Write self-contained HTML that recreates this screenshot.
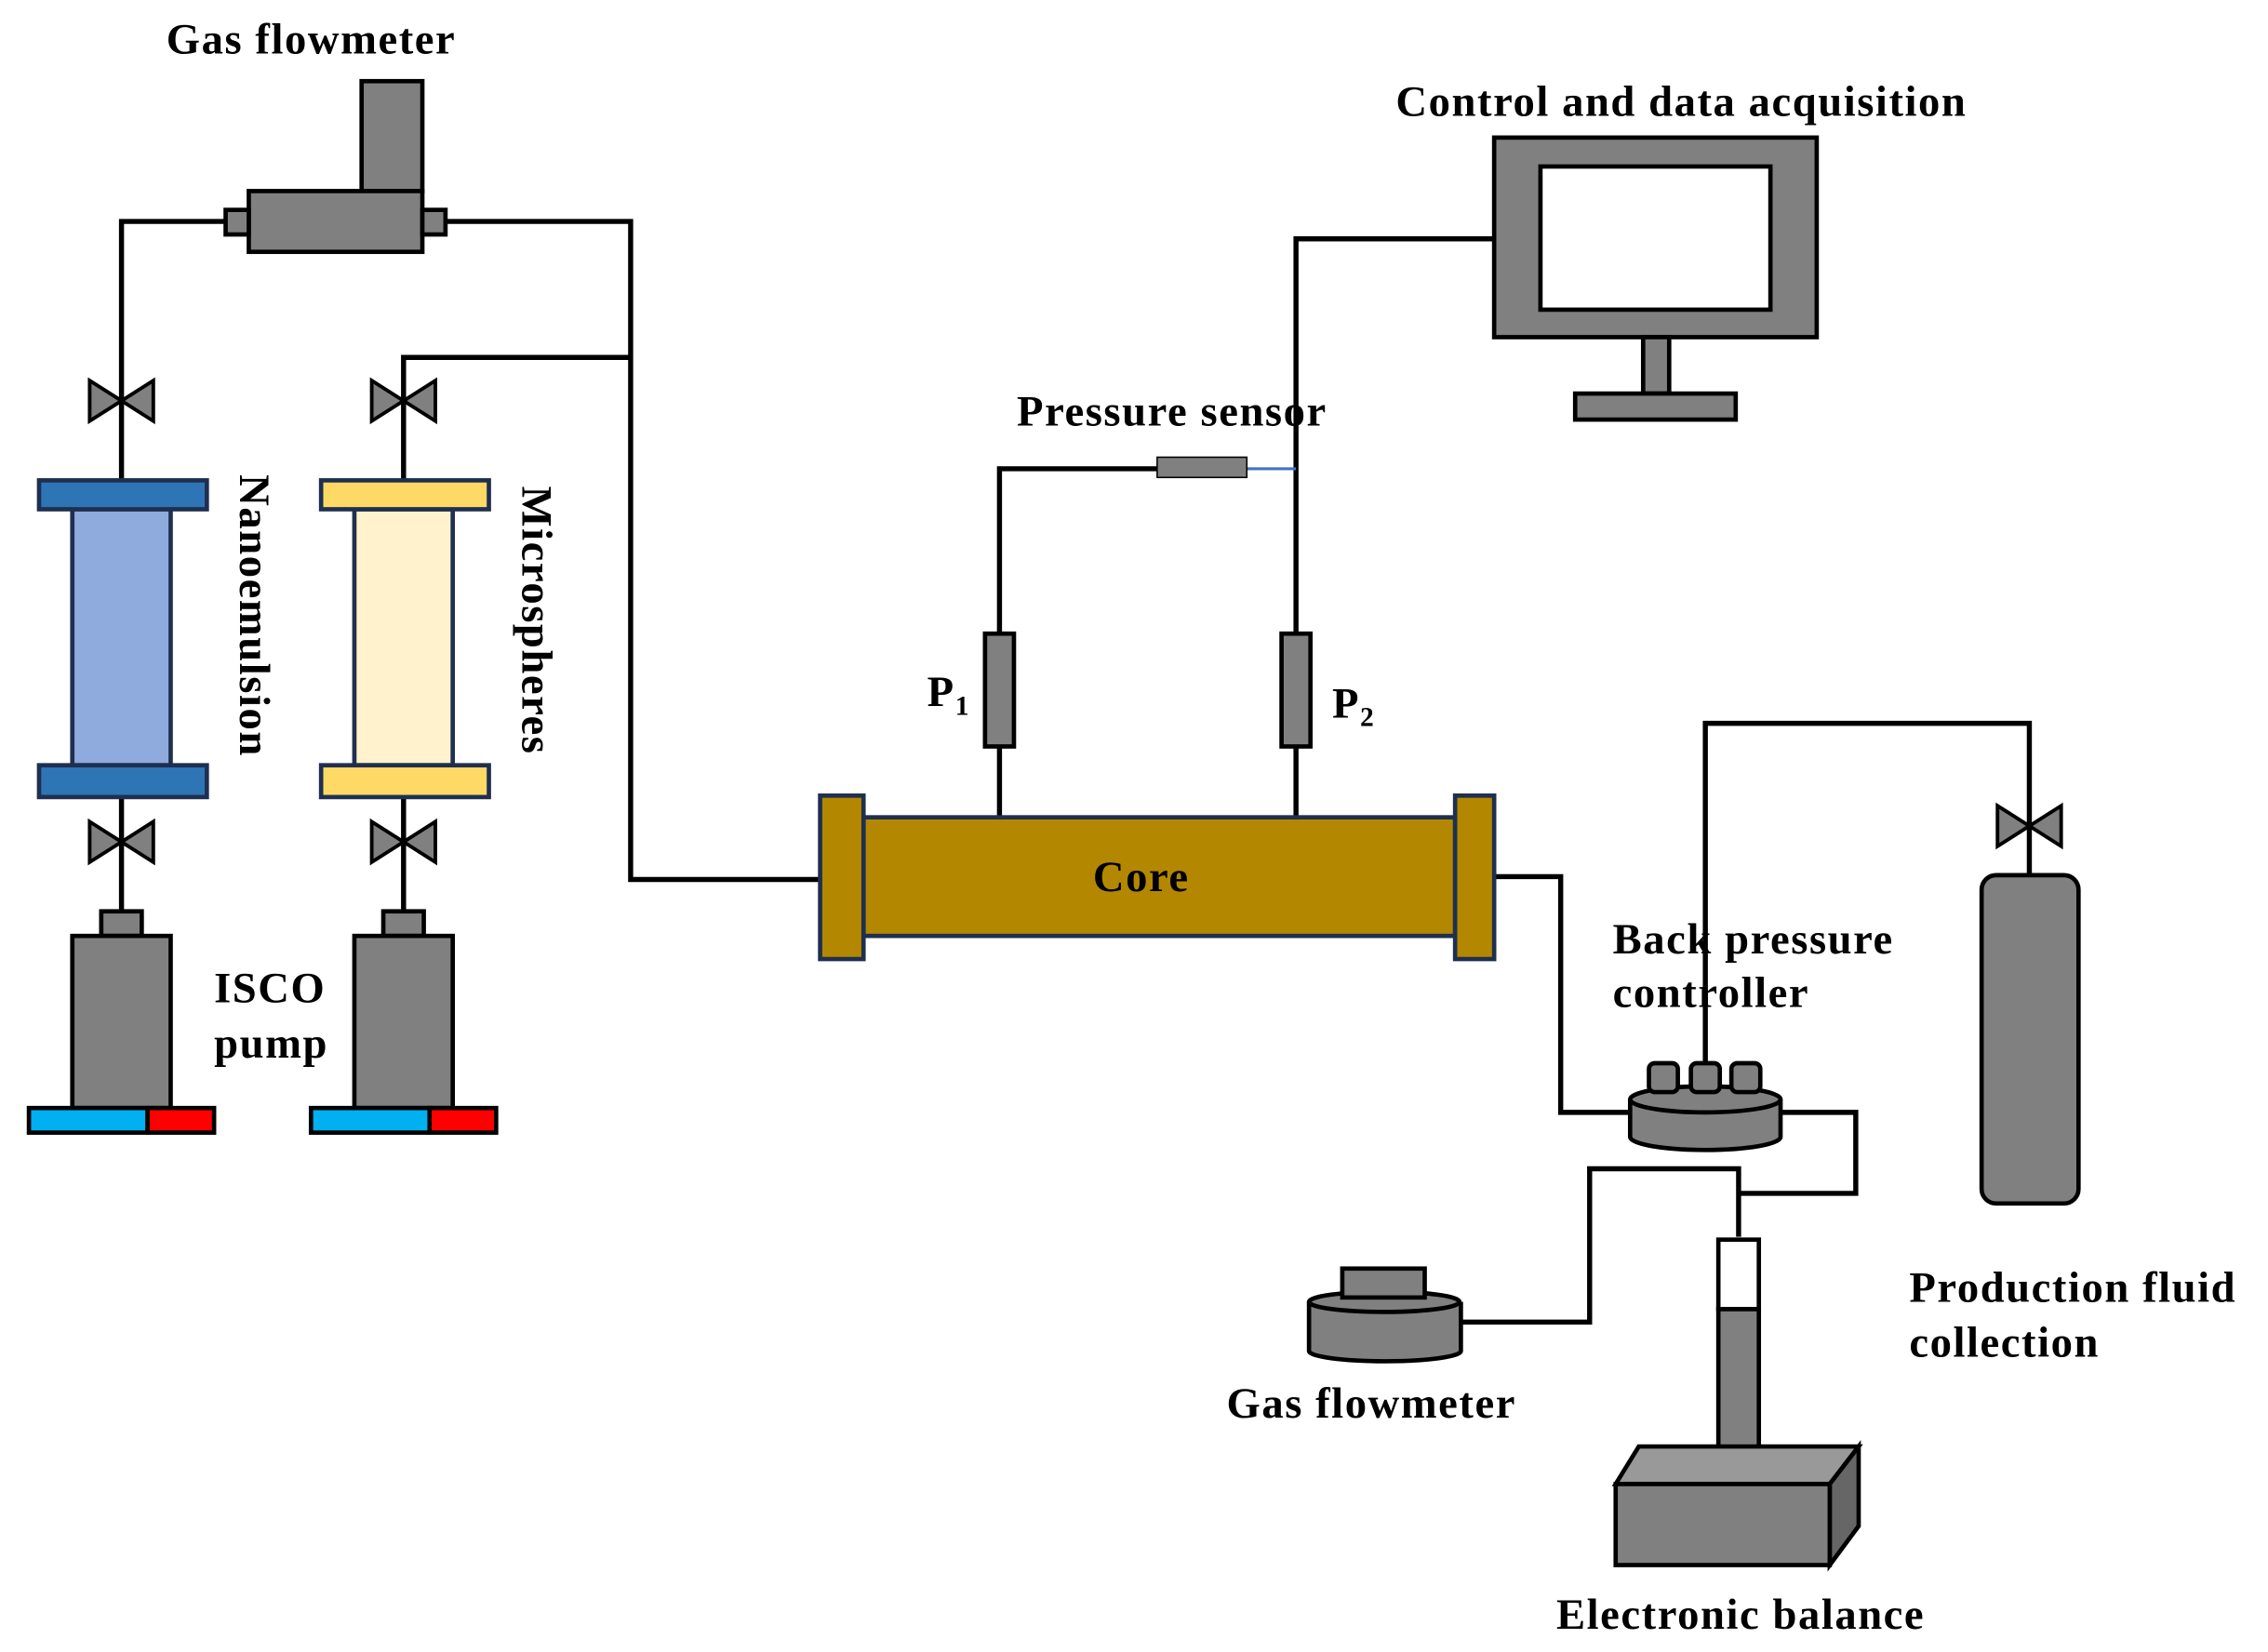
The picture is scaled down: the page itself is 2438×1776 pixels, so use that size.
<!DOCTYPE html>
<html><head><style>html,body{margin:0;padding:0;background:#fff}svg{display:block}</style></head>
<body>
<svg width="2438" height="1776" viewBox="0 0 1568 1142" xmlns="http://www.w3.org/2000/svg" font-family="'Liberation Serif',serif" font-weight="bold">
<rect width="1568" height="1142" fill="#fff"/>
<g fill="none" stroke="#000" stroke-width="3.5">
<polyline points="156,153 84,153 84,332"/>
<polyline points="308,153 436,153 436,608 567,608"/>
<polyline points="279,332 279,247 436,247"/>
<line x1="84" y1="551" x2="84" y2="630"/>
<line x1="279" y1="551" x2="279" y2="630"/>
<polyline points="691,565 691,324 800,324"/>
<polyline points="896,565 896,165 1033,165"/>
<polyline points="1033,606 1079,606 1079,769 1127,769"/>
<polyline points="1179,735 1179,500 1403,500 1403,605"/>
<polyline points="1231,769 1283,769 1283,825 1202,825"/>
<polyline points="1010,914 1099,914 1099,808 1202,808 1202,855"/>
</g>
<line x1="862" y1="324" x2="896" y2="324" stroke="#4472c4" stroke-width="2"/>
<g stroke="#000" stroke-width="3" fill="#808080">
<rect x="250" y="56" width="42" height="76"/>
<rect x="172" y="132" width="120" height="42"/>
<rect x="156" y="145" width="16" height="17"/>
<rect x="292" y="145" width="16" height="17"/>
</g>
<g stroke="#000" stroke-width="2.5" fill="#808080">
<path d="M62,263 L106,291 L106,263 L62,291 Z"/>
<path d="M257,263 L301,291 L301,263 L257,291 Z"/>
<path d="M62,568 L106,596 L106,568 L62,596 Z"/>
<path d="M257,568 L301,596 L301,568 L257,596 Z"/>
<path d="M1381,557 L1425,585 L1425,557 L1381,585 Z"/>
</g>
<g stroke="#1f2f4f" stroke-width="3">
<rect x="50" y="352" width="68" height="177" fill="#8faadc"/>
<rect x="27" y="332" width="116" height="20" fill="#2e75b6"/>
<rect x="27" y="529" width="116" height="22" fill="#2e75b6"/>
<rect x="245" y="352" width="68" height="177" fill="#fff2cc"/>
<rect x="222" y="332" width="116" height="20" fill="#ffd966"/>
<rect x="222" y="529" width="116" height="22" fill="#ffd966"/>
<rect x="597" y="565" width="409" height="82" fill="#b38800"/>
<rect x="567" y="550" width="30" height="113" fill="#b38800"/>
<rect x="1006" y="550" width="27" height="113" fill="#b38800"/>
</g>
<g stroke="#000" stroke-width="3" fill="#808080">
<rect x="70" y="630" width="28" height="17"/>
<rect x="50" y="647" width="68" height="119"/>
<rect x="265" y="630" width="28" height="17"/>
<rect x="245" y="647" width="68" height="119"/>
<rect x="20" y="766" width="82" height="17" fill="#00b0f0"/>
<rect x="102" y="766" width="46" height="17" fill="#ff0000"/>
<rect x="215" y="766" width="82" height="17" fill="#00b0f0"/>
<rect x="297" y="766" width="46" height="17" fill="#ff0000"/>
<rect x="681" y="438" width="20" height="78"/>
<rect x="886" y="438" width="20" height="78"/>
<rect x="800" y="316" width="62" height="14" stroke-width="1"/>
<rect x="1033" y="95" width="223" height="138"/>
<rect x="1065" y="115" width="159" height="99" fill="#fff"/>
<rect x="1136" y="233" width="18" height="39"/>
<rect x="1089" y="272" width="111" height="18"/>
<path d="M1127,760 L1127,786 A52,9 0 0 0 1231,786 L1231,760"/>
<ellipse cx="1179" cy="760" rx="52" ry="9"/>
<rect x="1140" y="735" width="20" height="20" rx="4"/>
<rect x="1169" y="735" width="20" height="20" rx="4"/>
<rect x="1197" y="735" width="20" height="20" rx="4"/>
<rect x="1370" y="605" width="67" height="227" rx="10"/>
<path d="M905,900 L905,934 A52,7 0 0 0 1010,934 L1010,900"/>
<ellipse cx="957" cy="900" rx="52" ry="7"/>
<rect x="928" y="877" width="57" height="20"/>
<rect x="1188" y="905" width="28" height="100"/>
<rect x="1188" y="857" width="28" height="48" fill="#fff"/>
<path d="M1117,1026 L1133,1000 L1285,1000 L1265,1026 Z" fill="#999"/>
<path d="M1265,1026 L1285,1000 L1285,1055 L1265,1082 Z" fill="#666"/>
<rect x="1117" y="1026" width="148" height="56"/>
</g>
<g font-size="30" fill="#000" letter-spacing="1">
<text x="115" y="37">Gas flowmeter</text>
<text x="965" y="80">Control and data acquisition</text>
<text x="703" y="294">Pressure sensor</text>
<text x="148" y="693">ISCO</text>
<text x="148" y="731">pump</text>
<text x="789" y="616" text-anchor="middle">Core</text>
<text x="641" y="488">P<tspan font-size="19" dy="6">1</tspan></text>
<text x="921" y="496">P<tspan font-size="19" dy="6">2</tspan></text>
<text x="1115" y="659">Back pressure</text>
<text x="1115" y="696">controller</text>
<text x="1320" y="900">Production fluid</text>
<text x="1320" y="938">collection</text>
<text x="848" y="980">Gas flowmeter</text>
<text x="1076" y="1126">Electronic balance</text>
<text transform="translate(166,328) rotate(90)">Nanoemulsion</text>
<text transform="translate(361,336) rotate(90)">Microspheres</text>
</g>
</svg>
</body></html>
